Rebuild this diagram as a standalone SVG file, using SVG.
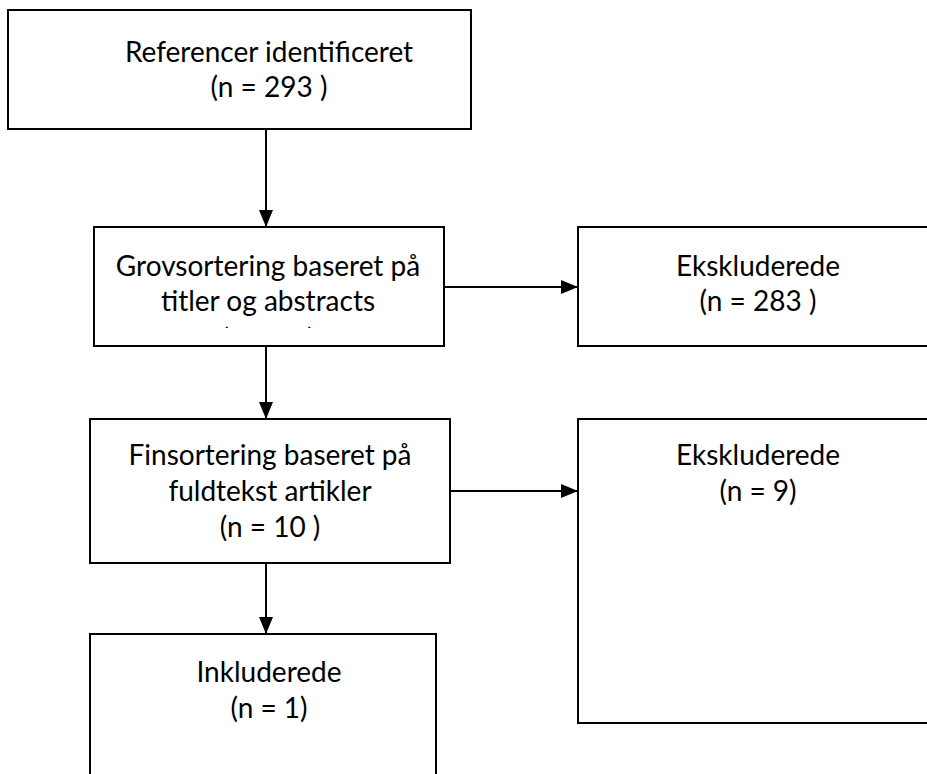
<svg xmlns="http://www.w3.org/2000/svg" width="927" height="774" viewBox="0 0 927 774">
  <style>
    .box { fill: #ffffff; stroke: #000000; stroke-width: 2; }
    .lbl { font-family: Lato, "Liberation Sans", sans-serif; font-size: 28px; fill: #000000; text-anchor: middle; }
    .conn { stroke: #000000; stroke-width: 2; fill: none; }
  </style>
  <defs>
    <marker id="arrow" markerUnits="userSpaceOnUse" markerWidth="17" markerHeight="16" viewBox="0 0 17 16" refX="17" refY="8" orient="auto">
      <path d="M0,1 L17,8 L0,15 Z" fill="#000000"/>
    </marker>
    <clipPath id="clipGrov">
      <rect x="94" y="227" width="350" height="101"/>
    </clipPath>
  </defs>

  <g id="connectors">
    <line class="conn" x1="266" y1="130" x2="266" y2="227" marker-end="url(#arrow)"/>
    <line class="conn" x1="444" y1="287" x2="578" y2="287" marker-end="url(#arrow)"/>
    <line class="conn" x1="266" y1="347" x2="266" y2="419" marker-end="url(#arrow)"/>
    <line class="conn" x1="450" y1="491" x2="578" y2="491" marker-end="url(#arrow)"/>
    <line class="conn" x1="266" y1="564" x2="266" y2="634" marker-end="url(#arrow)"/>
  </g>

  <g id="referencer">
    <rect class="box" x="8" y="10" width="463" height="119"/>
    <text class="lbl" x="269" y="62">Referencer identificeret</text>
    <text class="lbl" x="269" y="97">(n = 293 )</text>
  </g>

  <g id="grovsortering">
    <rect class="box" x="94" y="227" width="350" height="119"/>
    <text class="lbl" x="268" y="276">Grovsortering baseret på</text>
    <text class="lbl" x="268" y="311">titler og abstracts</text>
    <text class="lbl" x="268" y="349" clip-path="url(#clipGrov)">(n = 10)</text>
  </g>

  <g id="ekskluderede1">
    <rect class="box" x="578" y="227" width="360" height="119"/>
    <text class="lbl" x="758" y="276">Ekskluderede</text>
    <text class="lbl" x="758" y="311">(n = 283 )</text>
  </g>

  <g id="finsortering">
    <rect class="box" x="90" y="419" width="360" height="144"/>
    <text class="lbl" x="270" y="465">Finsortering baseret på</text>
    <text class="lbl" x="270" y="501">fuldtekst artikler</text>
    <text class="lbl" x="270" y="537">(n = 10 )</text>
  </g>

  <g id="ekskluderede2">
    <rect class="box" x="578" y="419" width="360" height="304"/>
    <text class="lbl" x="758" y="465">Ekskluderede</text>
    <text class="lbl" x="758" y="501">(n = 9)</text>
  </g>

  <g id="inkluderede">
    <rect class="box" x="90" y="634" width="346" height="160"/>
    <text class="lbl" x="269" y="682">Inkluderede</text>
    <text class="lbl" x="269" y="718">(n = 1)</text>
  </g>
</svg>
